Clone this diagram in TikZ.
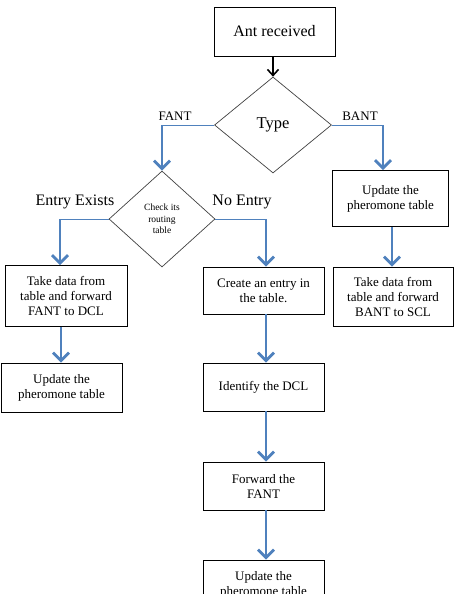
\documentclass[tikz,border=0pt]{standalone}
\usepackage{fontspec}
\setmainfont{Liberation Serif}
\usetikzlibrary{shapes.geometric,arrows.meta}
\definecolor{myblue}{HTML}{4F81BD}
\begin{document}
\begin{tikzpicture}[x=1pt,y=-1pt,
  box/.style={draw=black,line width=0.8pt,inner sep=0pt,align=center,font=\fontsize{13}{15}\selectfont},
  dia/.style={diamond,draw=black!75,line width=0.7pt,inner sep=0pt,align=center},
  flow/.style={draw=myblue,line width=2.8pt,-{Straight Barb[length=8pt,width=16pt]}},
  link/.style={draw=myblue,line width=1pt},
  lbl/.style={inner sep=0pt}]
\useasboundingbox (0,0) rectangle (454,594);
\clip (0,0) rectangle (454,594);
% nodes
\node[box,minimum width=121pt,minimum height=49pt,font=\fontsize{16}{18}\selectfont] (ant) at (274.5,31.5) {Ant received};
\node[dia,minimum width=117pt,minimum height=96pt,font=\fontsize{16.5}{18}\selectfont] (type) at (273,125) {\raisebox{-2pt}{Type}};
\node[dia,minimum width=106pt,minimum height=96pt,font=\fontsize{9.5}{11.5}\selectfont] (check) at (162,219) {\raisebox{3pt}{\parbox{50pt}{\centering Check its\\routing\\table}}};
\node[box,minimum width=116pt,minimum height=56pt] (upR) at (390.5,198.5) {Update the\\pheromone table};
\node[box,minimum width=120pt,minimum height=59pt] (takeR) at (393,296.5) {Take data from\\table and forward\\BANT to SCL};
\node[box,minimum width=122pt,minimum height=61pt] (takeL) at (66,296) {Take data from\\table and forward\\FANT to DCL};
\node[box,minimum width=121pt,minimum height=49pt] (upL) at (61.5,387.5) {Update the\\pheromone table};
\node[box,minimum width=121pt,minimum height=47pt] (create) at (263.5,290.5) {Create an entry in\\the table.};
\node[box,minimum width=121pt,minimum height=48pt] (ident) at (263.5,387) {Identify the DCL};
\node[box,minimum width=121pt,minimum height=48pt] (fwd) at (263.5,486) {Forward the\\FANT};
\node[box,minimum width=121pt,minimum height=49pt] (upF) at (263.5,584.5) {Update the\\pheromone table};
% labels
\node[lbl,font=\fontsize{13}{15}\selectfont] (fant) at (175,116) {FANT};
\node[lbl,font=\fontsize{13}{15}\selectfont] (bant) at (360,116) {BANT};
\node[lbl,font=\fontsize{16}{18}\selectfont] (ee) at (75,202) {Entry Exists};
\node[lbl,font=\fontsize{16}{18}\selectfont] (ne) at (242,202) {No Entry};
% connectors
\draw[black,line width=1.6pt,-{Straight Barb[length=6pt,width=11pt]}] (ant.south -| type.north) -- (type.north);
\coordinate (fk) at (type.west -| check.north);
\draw[link] (type.west) -- (fk);
\draw[flow] (fk) -- (check.north);
\coordinate (bk) at (383,125);
\draw[link] (type.east) -- (bk);
\draw[flow] (bk) -- (bk |- upR.north);
\coordinate (ek) at (60,219);
\draw[link] (check.west) -- (ek);
\draw[flow] (ek) -- (ek |- takeL.north);
\coordinate (nk) at (266,219);
\draw[link] (check.east) -- (nk);
\draw[flow] (nk) -- (nk |- create.north);
\draw[flow] ([xshift=-5pt]takeL.south) -- ([xshift=-5pt]takeL.south |- upL.north);
\draw[flow] ([xshift=1.5pt]upR.south) -- ([xshift=1.5pt]upR.south |- takeR.north);
\draw[flow] ([xshift=2.5pt]create.south) -- ([xshift=2.5pt]create.south |- ident.north);
\draw[flow] ([xshift=2.5pt]ident.south) -- ([xshift=2.5pt]ident.south |- fwd.north);
\draw[flow] ([xshift=2.5pt]fwd.south) -- ([xshift=2.5pt]fwd.south |- upF.north);
\end{tikzpicture}
\end{document}
